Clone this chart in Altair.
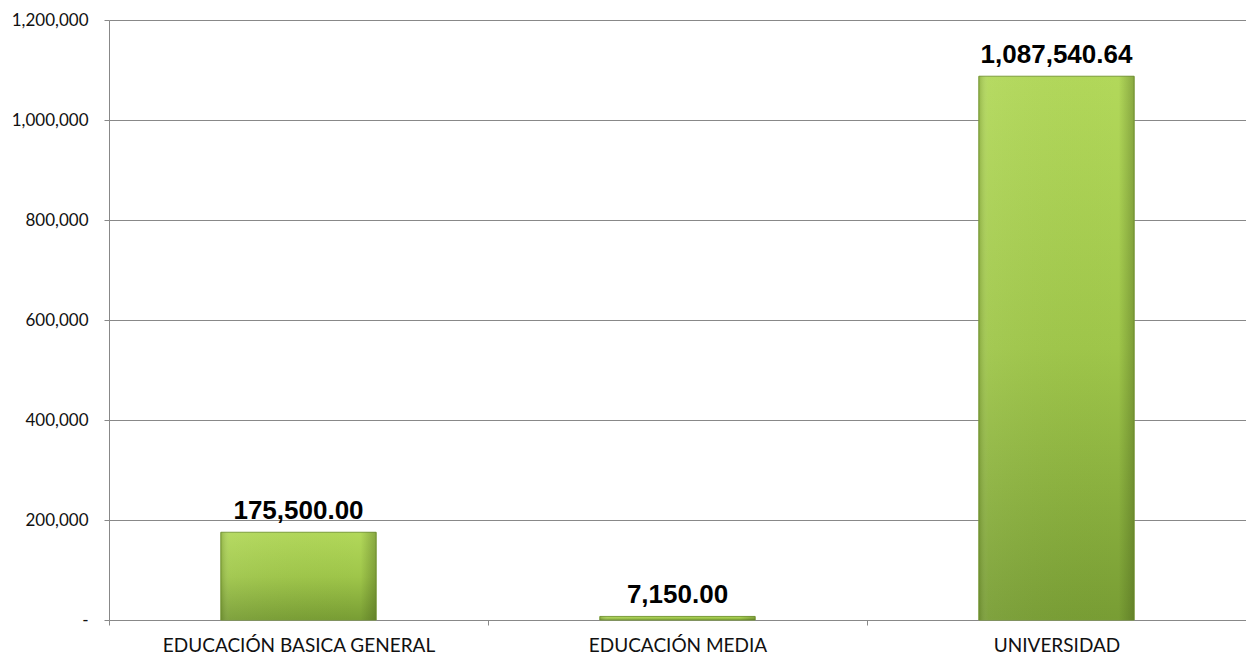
import altair as alt
import pandas as pd

categories = ["EDUCACIÓN BASICA GENERAL", "EDUCACIÓN MEDIA", "UNIVERSIDAD"]
values = [175500.00, 7150.00, 1087540.64]
y_ticks = [0, 200000, 400000, 600000, 800000, 1000000, 1200000]

df = pd.DataFrame({"cat": categories, "val": values})
df["label"] = [f"{v:,.2f}" for v in values]

x_enc = alt.X(
    "cat:N",
    sort=categories,
    title=None,
    scale=alt.Scale(paddingInner=0, paddingOuter=0),
    axis=alt.Axis(
        labelAngle=0,
        labelFont="Lato",
        labelFontSize=19,
        labelColor="#111111",
        labelPadding=11,
        labelBaseline="top",
        labelLimit=0,
        tickBand="extent",
        tickSize=5,
        tickColor="#888888",
        domainColor="#888888",
        grid=False,
    ),
)
y_enc = alt.Y(
    "val:Q",
    title=None,
    scale=alt.Scale(domain=[0, 1200000], nice=False),
    axis=alt.Axis(
        values=y_ticks,
        labelExpr="datum.value == 0 ? '-' : format(datum.value, ',')",
        labelFont="Lato",
        labelFontSize=17,
        labelColor="#111111",
        labelPadding=16,
        tickSize=5,
        tickColor="#888888",
        domainColor="#888888",
        gridColor="#888888",
        gridOpacity=1,
    ),
)

base = alt.Chart(df)

bars = base.mark_bar(
    width={"band": 0.41},
    color={
        "gradient": "linear",
        "x1": 0, "y1": 0, "x2": 0, "y2": 1,
        "stops": [
            {"offset": 0, "color": "#b2d85a"},
            {"offset": 0.5, "color": "#9fc64a"},
            {"offset": 1, "color": "#789d34"},
        ],
    },
    stroke="#7a9c38",
    strokeWidth=1,
).encode(x=x_enc, y=y_enc)

shade = base.mark_bar(
    width={"band": 0.41},
    color={
        "gradient": "linear",
        "x1": 0, "y1": 0, "x2": 1, "y2": 0,
        "stops": [
            {"offset": 0, "color": "rgba(60,80,20,0.25)"},
            {"offset": 0.06, "color": "rgba(255,255,255,0.05)"},
            {"offset": 0.9, "color": "rgba(60,80,20,0.0)"},
            {"offset": 1, "color": "rgba(60,80,20,0.35)"},
        ],
    },
).encode(x=x_enc, y=y_enc)

text = base.mark_text(
    font="Liberation Sans",
    fontWeight="bold",
    fontSize=26,
    color="#000000",
    baseline="alphabetic",
    dy=-13,
).encode(x=x_enc, y=y_enc, text="label:N")

chart = (
    alt.layer(bars, shade, text)
    .properties(
        width=1137,
        height=600,
        autosize=alt.AutoSizeParams(type="none"),
        padding={"left": 101, "top": 12, "right": 0, "bottom": 36},
    )
    .configure_view(stroke=None)
)

chart.save("out.html", embed_options={"renderer": "svg", "actions": False})
